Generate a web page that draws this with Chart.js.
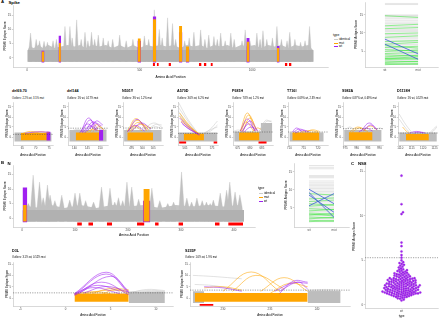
<!DOCTYPE html>
<html><head><meta charset="utf-8">
<script src="https://cdn.jsdelivr.net/npm/chart.js@4.4.1/dist/chart.umd.min.js"></script>
<style>
html,body{margin:0;padding:0;background:#fff}
body{width:440px;height:319px;position:relative;overflow:hidden;font-family:"Liberation Sans",Arial,sans-serif}
canvas{position:absolute}
.t{position:absolute;white-space:nowrap;line-height:1;color:#000}
.key{position:absolute;height:0;border-top:0.9px solid}
</style></head><body>
<script>
// ================= DATA =================
// Spike: low texture of the score mass (amino acid, score) and individual peaks
const spikeBase = [[1,2.5],[10,4],[30,3.5],[50,4.5],[70,3.5],[95,4.5],[120,3.5],[150,4],[180,4.5],[210,4],[235,4.5],[260,3.5],[290,4.5],[320,4],[350,4.5],[380,3.5],[410,4.5],[440,3.5],[470,4.5],[500,3.5],[530,4.5],[560,4],[590,4.5],[620,4],[650,4.5],[680,3.5],[710,4.5],[740,4],[770,4.5],[800,3.5],[830,4.5],[860,4],[890,4.5],[920,3.5],[950,4.5],[980,4],[1010,4.5],[1040,3.5],[1070,4.5],[1100,4],[1130,4.5],[1160,3.5],[1190,4.5],[1220,4],[1250,4.5],[1273,2.5]];
const spikePeakPos =   [15,40,55,75,90,115,130,168,190,200,220,240,257,270,286,300,316,338,360,380,411,440,470,500,521,540,565,587,600,624,646,660,700,720,741,771,790,807,830,845,860,880,905,920,955,969,990,1021,1035,1048,1065,1090,1110,1130,1155,1167,1190,1215,1235,1255];
const spikePeakScore = [8.7,6.5,6,5.8,5.5,6,6.5,11,11,7,13.3,6.5,9,6,9,6.5,8,7,6,6.5,8,6,6.5,5.5,7.7,6.5,16.8,10,7,14,12,6.5,6,7,9,9.8,6.5,8,7.5,6.5,8.7,6,8.7,6.5,6,9.8,6,8.7,6.5,9.5,6.5,7,11,6.5,6,9,6.5,5.5,6,11];
const spikeSites = ['del69-70','del144','N501Y','A570D','P681H','T716I','S982A','D1118H'];
const spikeSiteStart = [63,139,490,558,674,705,974,1109];
const spikeSiteEnd = [77,151,506,574,690,721,989,1122];
const spikeSiteMutTop = [2.3,5.2,6.8,13.5,11.2,4.0,5.7,3.5];
const spikeSiteWtTop = [2.5,7.8,6.0,14.5,9.0,3.2,7.0,4.2];
const spikeRedStart = [558,576,628,763,785,815,1145,1163];
const spikeRedEnd = [568,585,639,775,797,825,1157,1175];

// Spike antigen scores (wt -> mut)
const spikeAgIdentical = [18.2,17.9,15.0,14.8,14.6,14.2,13.9,13.4,13.0,12.6,12.2,11.8,11.4,11.0,10.7,10.4,10.0,9.6,9.2,8.8,8.4,8.0,7.6,7.2,6.8,6.4,6.0,5.6,5.2,4.8,4.4,4.0,3.6,3.2,2.8,2.4,2.0,1.6,1.3];
const spikeAgGreenWt = [14.8,12.0,11.2,9.8,8.8,7.6,6.9,6.5,6.0,5.4,4.9,4.3,3.9,3.4,3.0,2.9,2.6,2.2,1.8,1.5,1.2];
const spikeAgGreenMut = [14.3,12.4,11.5,10.0,9.2,7.9,7.4,5.8,6.3,5.0,5.3,4.6,3.6,3.8,2.7,3.4,2.9,2.0,2.1,1.3,1.5];
const spikeAgBlueWt = [8.3,6.9];
const spikeAgBlueMut = [4.2,2.7];

// Spike mutation close-ups
const spTitles = ['del69-70','del144','N501Y','A570D','P681H','T716I','S982A','D1118H'];
const spOutliers = ['Outliers: 2.2% wt, 3.5% mut','Outliers: 1% wt, 0.17% mut','Outliers: 3% wt, 1.2% mut','Outliers: 3.6% wt, 6.2% mut','Outliers: 7.8% wt, 1.2% mut','Outliers: 0.69% wt, 2.3% mut','Outliers: 0.87% wt, 0.69% mut','Outliers: 1% wt, 0.52% mut'];
const spRange = [[61.5,76.5],[137.5,153],[491,509.6],[562.4,577.2],[673,689.6],[709.5,723.5],[974,991.6],[1109,1126.5]];
const spTicks = [[65,70,75],[140,145,150],[495,500,505],[565,570,575],[675,680,685],[710,715,720],[975,980,985,990],[1110,1115,1120,1125]];
const spCutoff = [1.3,4.4,4.5,1.8,2.5,2.5,4.2,2.0];
const spGrayBlocks = [[[62,76,2.2]],[[138,152.5,3.5]],[[491.5,509,3.5]],[[562.5,577,2.3]],[[673.5,689,2.8],[684.5,689.3,7]],[[710,722,2.3]],[[974.5,991,3.5]],[[1109.5,1126,2.3]]];
const spMutBlock = [[64.5,75,2.0],[140.5,150,2.2],[493,505,2.3],[564.5,572,1.6],[675.5,684,2.3],[711,720.5,2.3],[976.5,987,2.4],[1112.5,1122.5,1.5]];
const spWtBlocks = [[[74,75.6,2.6]],[[149.5,151.2,3.6]],[],[],[],[],[],[]];
const spRed = [[],[],[],[[562.8,565.5],[575.5,577]],[[683.5,687]],[],[],[]];
const spGrayCurves = [
 [],
 [[138,2.5,141,3.8,144,3],[147,3,150,4.5,152.5,3.5]],
 [[500,3,505,7,509,5],[502,3,506,6.2,509,6],[503,3.5,506,5.2,509,4],[491.5,3,494,4,497,3]],
 [[562.5,17.5,566,9,570,1.5],[562.5,15,566,8,570,1],[562.5,13,565.5,7,569.5,1.5],[563,11,566,6,570,1],[571,1,574,3.5,577,8],[571.5,1.5,574.5,3,577,6],[572,2,575,4,577,5]],
 [[684,3,686.5,8.3,689,7.5],[684,3,686.5,7.5,689,8],[673.5,3,675.5,3.5,677,2.5]],
 [],
 [[974.5,3,977,5,979,3.5],[988,3,990,4.5,991.5,4]],
 [[1109.5,11.5,1112.5,6,1116,1],[1109.5,9,1112,5,1115,1],[1122,1,1124.5,3,1126,5],[1122.5,1.5,1124.5,4,1126,5.5]]
];
const spMutCurves = [
 [[64.5,1.5,68,2.8,72,1.8],[68,2,71.5,2.6,75,2.2]],
 [[146,2.5,148.5,6.2,151,4],[147,2.5,149.5,5.2,151.5,3.5],[144,2,147,3.8,150,3]],
 [[493,2.5,497,9.2,502,3],[493.5,3,497.5,8.3,502.5,4],[494,2.5,498,7.3,503,3.5],[495,3,499,6.3,504,4.5],[493,3,496,5.5,500,3]],
 [[563,12,566.5,6,570.5,1],[563,10.5,566,5,570,1.5],[564,9,567,5,570.5,0.5],[563.5,8,567,4.5,571,1]],
 [[676,3,679,12,682,3],[676.5,3,679.5,11,682.5,4],[677,2.5,680,9.5,683,3],[676,3,678.5,7.5,681.5,3],[681,2.5,683,4.5,684.5,4]],
 [[716,2.5,718,3.6,720.5,2.8],[714,2.5,717,3.2,720,2.5]],
 [[977,2.5,980.5,5,984,3],[978,2.5,981.5,4.6,985,2.5],[983,3,986,5.5,989,3.5]],
 [[1111,5,1113,2.5,1115,1]]
];
const spWtCurves = [
 [[66,1.8,70.5,2.6,75,2.4]],
 [[142.5,2.5,145.5,9.5,148.5,3],[143,2.5,146,8.5,149,4],[144,2,147,7.5,150,5],[142,2,145,6.5,148,3.5],[145,3,147.8,7,150.5,5.5],[143,2,146,5.5,149,3.5],[146,4,148.5,8,151,6]],
 [[493.5,3,497.5,8.8,502,3.5],[495,3,499.5,7,504,4],[493,2.5,496.5,5.8,501,3]],
 [[563,9.5,566,5.5,570,1],[563.5,7.5,566.5,4,570,1.5],[564,6.5,567,3.5,570.5,1]],
 [[676,3,679,9,682,3],[677,3,680,8,683,3.5],[676.5,2.5,679.5,6.5,682.5,3],[677.5,2.5,680.5,5,683.5,3]],
 [[711,2.5,712.5,4.5,714.5,2.5],[711.5,2.5,713.5,4,716,2.5],[712,2,714.5,3.5,717,2.5]],
 [[982,3,985.5,7,989,3.5],[983,3,986,6,989,4],[981,2.5,984,4.5,987,3]],
 [[1114,2,1117,2.8,1120,2],[1116,2,1118.5,2.5,1121,2]]
];

// N protein
const nBase = [[1,2.5],[15,4],[35,3.5],[55,4.5],[80,3.5],[110,4.5],[140,3.5],[170,4.5],[200,4],[230,4.5],[260,3.5],[290,4.5],[320,4],[350,4.5],[380,4],[410,4.5],[419,2]];
const nPeakPos =   [12,21,33,40,48,53,62,75,90,100,109,120,135,150,166,175,182,190,198,207,220,245,260,275,286,301,311,320,330,340,348,355,361,374,386,392,402,411];
const nPeakScore = [5,14.8,12.4,7,11.4,7.9,6,7.9,6.2,8.6,8.6,6,5.5,10.7,10.3,5.5,7,6,12.4,10.7,6.5,10.3,6,5,5.5,15.9,6.9,5.5,6.9,6,5.5,5,6.2,8.6,9.6,12.4,9,8];
const nSiteStart = [1,228];
const nSiteEnd = [10,242];
const nSiteMutTop = [4.5,10];
const nSiteWtTop = [10.5,6];
const nRedStart = [104,125,160,217,251,295,364,389];
const nRedEnd = [113,134,170,231,258,304,373,417];
const nAgIdentical = [16.8,16.3,15.9,14.0,13.7,13.4,12.5,12.0,11.6,11.2,10.8,10.4,10.0,9.6,9.2,8.8,8.4,8.0,7.6,7.2,6.8,6.4,6.0,5.6,5.2,4.8,4.4,4.0,3.6,3.2,2.8,2.4,2.0,1.6,1.2];
const nAgGreenWt = [9.0,7.5,6.8,6.2,5.5,4.8,4.2,3.6,3.3,3.0,2.5,2.0,1.6,1.2];
const nAgGreenMut = [8.6,7.8,7.2,5.8,5.9,4.5,4.6,3.3,2.8,3.4,2.2,2.4,1.3,1.5];
const nAgBlueWt = [10.2,9.3,8.6,5.6];
const nAgBlueMut = [6.2,2.4,3.8,9.0];

// N close-ups
const d3lRange = [-5.8,11.9], d3lTicks = [-5,0,5,10], d3lCutoff = 2.3;
const d3lGrayBlocks = [[7,11,2.8]];
const d3lMutBlock = [1,7,2.0];
const d3lGrayCurves = [[7,2.2,9,3.8,11,3.3],[7,2.6,9.5,3.4,11,2.9],[7.5,2,9.5,3,11,2.5]];
const d3lMutCurves = [[3,2,5,4.3,7,3.6],[4,1.5,5.5,3.8,7,2.2],[2,1.8,4.5,3.4,7,3.1],[1,1.8,3,2.8,5,2]];
const d3lWtCurves = [[1,2,4.5,11.4,7,2.6],[1,1.6,4.5,10.6,7,2.2],[1.5,2,5,9.6,7,3],[1,2,3.5,5.6,6,3],[2,2.2,4.5,5.1,7,2.6],[1,1.2,3,4.6,6,2],[1,1.5,4,7,7,1.5]];
const s235fRange = [226.5,243.5], s235fTicks = [230,235,240], s235fCutoff = 3.5;
const s235fGrayBlocks = [[226.8,228,3],[239,242.5,3.2]];
const s235fMutBlock = [227,239,2.2];
const s235fRed = [[227.5,229]];
const s235fGrayCurves = [[226.8,10,229,9.5,232,8.5],[227,6,229,5.5,231,4],[239,3.5,241,3.8,242.5,3.5],[239,3,241,3.2,242.5,2.8]];
const s235fMutCurves = [[230,3,233,11.5,236,3],[231,3,233.5,10,236.5,4],[234,3,236.5,9,239,3],[235,2,237,6.5,239,5],[228,4.5,230,5,232,3.5]];
const s235fWtCurves = [[236,2,237.5,7.5,239,7],[235.5,3,237.5,6.8,239,6.5],[228,5,230,4.5,232,3],[236,3,238,7,239,4]];

// NS8 antigen scores (wt only)
const ns8Scores = [14.5,11.3,10.4,10.2,7.0,6.6,6.0,5.6,5.3,5.0,4.8,4.7,4.6,4.5,4.4,4.3,4.2,4.1,4.0,3.95,3.9,
 3.85,3.8,3.75,3.7,3.65,3.6,3.55,3.5,3.5,3.45,3.4,3.4,3.35,3.3,3.3,3.25,3.2,3.2,3.15,3.1,3.1,3.05,3.0,3.0,3.0,
 2.95,2.95,2.9,2.9,2.9,2.85,2.85,2.8,2.8,2.8,2.75,2.75,2.7,2.7,2.7,2.65,2.65,2.6,2.6,2.6,2.55,2.55,2.5,2.5,2.5,
 2.45,2.45,2.4,2.4,2.4,2.35,2.35,2.3,2.3,2.3,2.3,2.25,2.25,2.2,2.2,2.2,2.2,2.15,2.15,2.1,2.1,2.1,2.1,2.05,2.05,2.0,2.0,2.0,2.0,
 1.95,1.95,1.9,1.9,1.9,1.9,1.85,1.85,1.8,1.8,1.8,1.8,1.75,1.75,1.7,1.7,1.7,1.7,1.65,1.65,1.6,1.6,1.6,1.6,1.55,1.55,1.5,1.5,1.5,1.5,
 1.45,1.45,1.45,1.4,1.4,1.4,1.4,1.35,1.35,1.35,1.3,1.3,1.3,1.3,1.25,1.25,1.25,1.2,1.2,1.2,1.15,1.15,1.1,1.1,1.1,1.05,1.0,1.0,1.0,
 0.95,0.9,0.9,0.85,0.8,0.75,0.7,0.6,0.5];
const ns8Cutoff = 5.3;
const epiTicks = [0,5,10,15];

// ================= DRAWING =================
const F = '"Liberation Sans", Arial, sans-serif';
const COL = {env:'#c4c4c4', peak:'#c0c0c0', core:'#b1b1b1', gray:'#bdbdbd', gline:'#c4c4c4', orange:'#ffa500', purple:'#a020f0', red:'#ff0000', green:'#2fe82f', blue:'#3a5bd6', dash:'#454545', agGray:'#cbcbcb'};
const NONE = 'rgba(0,0,0,0)';

function P(a){return a.map(p=>({x:p[0],y:p[1]}));}
function area(pairs,color,base){return {data:P(pairs),borderWidth:0,borderColor:NONE,pointRadius:0,backgroundColor:color,fill:{value:base},tension:0};}
function block(x0,x1,lo,hi,color){return {data:[{x:x0,y:hi},{x:x1,y:hi}],borderWidth:0,borderColor:NONE,pointRadius:0,backgroundColor:color,fill:{value:lo}};}
function spike(pos,score,hw,foot,base,color){return {data:[{x:pos-hw,y:foot},{x:pos,y:score},{x:pos+hw,y:foot}],borderWidth:0.35,borderColor:color,pointRadius:0,backgroundColor:color,fill:{value:base},tension:0};}
function curve(c,color,w){return {data:[{x:c[0],y:c[1]},{x:c[2],y:c[3]},{x:c[4],y:c[5]}],borderColor:color,borderWidth:w||0.55,pointRadius:0,fill:false,tension:0.4};}
function seg(x0,y0,x1,y1,color,w,dash){return {data:[{x:x0,y:y0},{x:x1,y:y1}],borderColor:color,borderWidth:w,borderDash:dash||[],pointRadius:0,fill:false};}

function scale(isX,min,max,ticks,o){
  o=o||{};
  const tf=o.titleSize||3;
  return {type:'linear',position:isX?'bottom':'left',min,max,
    afterBuildTicks:s=>{s.ticks=ticks.map(v=>({value:v}));},
    afterFit:s=>{ if(isX) s.height=o.size; else s.width=o.size; s.paddingLeft=0;s.paddingRight=0;s.paddingTop=0;s.paddingBottom=0; },
    grid:{drawOnChartArea:false,drawTicks:true,tickLength:1.2,color:'#8c8c8c',lineWidth:0.4},
    border:{display:true,color:'#b3b3b3',width:0.5},
    ticks:{autoSkip:false,maxRotation:0,minRotation:0,padding:0.6,font:{size:o.tickSize||3,family:F},color:'#4d4d4d',callback:o.cb||(v=>String(v))},
    title:{display:!!o.title,text:o.title||'',font:{size:tf,family:F},color:'#000',padding:isX?{top:0,bottom:o.tpad||0}:{top:o.tpad||0,bottom:0}}};
}

function mk(rect,axL,axB,layers,sx,sy,type){
  const m=3,[x0,y0,x1,y1]=rect;
  const L=x0-axL,T=y0-m,W=x1+m-L,H=y1+axB-T;
  const c=document.createElement('canvas');
  c.width=W;c.height=H;
  c.style.left=L+'px';c.style.top=T+'px';c.style.width=W+'px';c.style.height=H+'px';
  document.body.appendChild(c);
  return new Chart(c,{type:type||'line',data:{datasets:layers.slice().reverse()},
    options:{responsive:false,animation:false,events:[],devicePixelRatio:1,
      layout:{autoPadding:false,padding:{left:0,top:m,right:m,bottom:0}},
      plugins:{legend:{display:false},tooltip:{enabled:false}},
      scales:{x:sx,y:sy}}});
}

function text(x,yc,s,size,bold,color){
  const d=document.createElement('div');d.className='t';d.textContent=s;
  d.style.left=x+'px';d.style.top=(yc-size*0.5)+'px';d.style.fontSize=size+'px';
  if(bold)d.style.fontWeight='bold'; if(color)d.style.color=color;
  document.body.appendChild(d);
}
function legend(x,yType,step){
  text(x,yType,'type',3.3);
  const items=[['identical',COL.agGray],['mut',COL.orange],['wt',COL.purple]];
  items.forEach((it,i)=>{
    const y=yType+step*(i+1);
    const k=document.createElement('div');k.className='key';
    k.style.left=(x+0.5)+'px';k.style.top=(y-0.4)+'px';k.style.width='4px';k.style.borderTopColor=it[1];
    document.body.appendChild(k);
    text(x+6,y,it[0],3);
  });
}

function mainPanel(rect,axL,axB,xr,xt,yr,baseEnv,peakPos,peakScore,hw,starts,ends,mutTop,wtTop,rs,re,redY,tpadY){
  const L=[];
  L.push(area(baseEnv,COL.env,yr.base));
  peakPos.forEach((p,i)=>L.push(spike(p,peakScore[i],hw,3,yr.base,COL.peak)));
  L.push(block(baseEnv[0][0],baseEnv[baseEnv.length-1][0],yr.base,2.8,COL.core));
  rs.forEach((s,i)=>L.push(block(s,re[i],redY[0],redY[1],COL.red)));
  starts.forEach((s,i)=>L.push(block(s,ends[i],yr.base-0.3,wtTop[i],COL.purple)));
  starts.forEach((s,i)=>L.push(block(s+1,ends[i]-1,yr.base,mutTop[i],COL.orange)));
  return mk(rect,axL,axB,L,
    scale(true,xr[0],xr[1],xt,{size:axB,title:'Amino Acid Position',titleSize:3.4}),
    scale(false,yr.min,yr.max,epiTicks,{size:axL,title:'PRIME Epitope Score',tpad:tpadY}));
}

function detailPanel(rect,xr,xt,yr,grayBlocks,mutBlock,wtBlocks,grayCurves,mutCurves,wtCurves,cutoff,reds,tpadY,axB){
  const L=[];
  grayBlocks.forEach(b=>L.push(block(b[0],b[1],-2.2,b[2],COL.gray)));
  grayCurves.forEach(c=>L.push(curve(c,COL.gline,0.5)));
  L.push(block(mutBlock[0],mutBlock[1],-1.6,mutBlock[2],COL.orange));
  wtBlocks.forEach(b=>L.push(block(b[0],b[1],-1.8,b[2],COL.purple)));
  mutCurves.forEach(c=>L.push(curve(c,COL.orange,0.55)));
  wtCurves.forEach(c=>L.push(curve(c,COL.purple,0.55)));
  reds.forEach(r=>L.push(block(r[0],r[1],yr.red[0],yr.red[1],COL.red)));
  L.push(seg(xr[0],cutoff,xr[1],cutoff,COL.dash,0.5,[1.2,1.2]));
  return mk(rect,13,axB,L,
    scale(true,xr[0],xr[1],xt,{size:axB,title:'Amino Acid Position',titleSize:2.9,tickSize:2.9}),
    scale(false,yr.min,yr.max,epiTicks,{size:13,title:'PRIME Epitope Score',titleSize:2.9,tickSize:2.9,tpad:tpadY}));
}

function agPanel(rect,axL,axB,yr,ident,gw,gm,bw,bm,tpadY){
  const L=[];
  ident.forEach(v=>L.push(seg(1,v,2,v,COL.agGray,0.5)));
  gw.forEach((v,i)=>L.push(seg(1,v,2,gm[i],COL.green,0.5)));
  bw.forEach((v,i)=>L.push(seg(1,v,2,bm[i],COL.blue,0.8)));
  return mk(rect,axL,axB,L,
    scale(true,0.4,2.6,[1,2],{size:axB,cb:v=>v===1?'wt':(v===2?'mut':'')}),
    scale(false,yr[0],yr[1],[5,10,15],{size:axL,title:'PRIME Antigen Score',tpad:tpadY}));
}

// ======== Panel A: Spike ========
text(1,2.5,'A',4.3,true);
text(8.5,2.8,'Spike',4.3,true);
mainPanel([13,5,328,67],13,12,[-63,1337],[0,500,1000],{min:-3.15,max:18.5,base:-1.3},
  spikeBase,spikePeakPos,spikePeakScore,7,spikeSiteStart,spikeSiteEnd,spikeSiteMutTop,spikeSiteWtTop,spikeRedStart,spikeRedEnd,[-2.8,-1.75],3.2);
legend(333,36,3.6);
agPanel([365,2,438,67],14,7,[0.56,18.6],spikeAgIdentical,spikeAgGreenWt,spikeAgGreenMut,spikeAgBlueWt,spikeAgBlueMut,3.2);

spTitles.forEach((t,k)=>{
  const ox=55*k;
  text(ox+12,92,t,3.7,true);
  text(ox+12,99,spOutliers[k],2.6);
  detailPanel([ox+13,102,ox+53,145],spRange[k],spTicks[k],{min:-4,max:17.5,red:[-3.3,-2.3]},
    spGrayBlocks[k],spMutBlock[k],spWtBlocks[k],spGrayCurves[k],spMutCurves[k],spWtCurves[k],spCutoff[k],spRed[k],5.2,12);
});

// ======== Panel B: N ========
text(1,163.5,'B',4.3,true);
text(7.5,163.8,'N',4.3,true);
mainPanel([13,165,255,227],13,10,[-17,439.6],[0,100,200,300,400],{min:-3.1,max:18.3,base:-1.2},
  nBase,nPeakPos,nPeakScore,5,nSiteStart,nSiteEnd,nSiteMutTop,nSiteWtTop,nRedStart,nRedEnd,[-2.6,-1.55],3.2);
legend(258,189,4);
agPanel([294,163,349,227],10,7,[-0.28,17.5],nAgIdentical,nAgGreenWt,nAgGreenMut,nAgBlueWt,nAgBlueMut,0.7);

text(12,252,'D3L',3.7,true);
text(12,258,'Outliers: 3.1% wt, 0.52% mut',2.6);
detailPanel([13,262,173,306],d3lRange,d3lTicks,{min:-3.5,max:15.9,red:[-3.4,-2.6]},
  d3lGrayBlocks,d3lMutBlock,[],d3lGrayCurves,d3lMutCurves,d3lWtCurves,d3lCutoff,[],5.2,11);
text(185,252,'S235F',3.7,true);
text(185,258,'Outliers: 1.6% wt, 1.9% mut',2.6);
detailPanel([190,262,350,306],s235fRange,s235fTicks,{min:-3.5,max:15.9,red:[-3.4,-2.6]},
  s235fGrayBlocks,s235fMutBlock,[],s235fGrayCurves,s235fMutCurves,s235fWtCurves,s235fCutoff,s235fRed,3.2,11);

// ======== Panel C: NS8 beeswarm ========
text(351,164,'C',4.3,true);
text(358,164.3,'NS8',4.3,true);
const ns8Chart = mk([365,165,438,308],14,10,[
    seg(-1,ns8Cutoff,1,ns8Cutoff,COL.dash,0.5,[1.2,1.2]),
    {type:'scatter',data:ns8Scores.map(v=>({x:0,y:v})),pointRadius:1.1,pointBackgroundColor:'#a020f0',pointBorderColor:'#8a1ad0',pointBorderWidth:0.3,showLine:false}
  ],
  scale(true,-1,1,[0],{size:10,title:'type',cb:v=>v===0?'wt':''}),
  scale(false,-0.34,15.7,[0,5,10,15],{size:14,title:'PRIME Antigen Score',tpad:1.2}),'line');
(function swarm(){
  const ys=ns8Chart.scales.y, xs=ns8Chart.scales.x, d=2.2;
  const cx=xs.getPixelForValue(0);
  const order=ns8Scores.map((v,i)=>({v,i,py:ys.getPixelForValue(v)})).sort((a,b)=>a.v-b.v);
  const placed=[];
  order.forEach((p,n)=>{
    let off=null;
    for(let k=0;k<400 && off===null;k++){
      const cands=k===0?[0]:(n%2?[k*0.25,-k*0.25]:[-k*0.25,k*0.25]);
      for(const c of cands){
        if(placed.every(q=>(q.x-c)*(q.x-c)+(q.py-p.py)*(q.py-p.py)>=d*d)){off=c;break;}
      }
    }
    p.x=off;placed.push(p);
  });
  const ds=ns8Chart.data.datasets.find(s=>s.type==='scatter');
  ds.data=ns8Scores.map(()=>null);
  placed.forEach(p=>{ds.data[p.i]={x:xs.getValueForPixel(cx+p.x),y:p.v};});
  ns8Chart.update();
})();
</script>
</body></html>
